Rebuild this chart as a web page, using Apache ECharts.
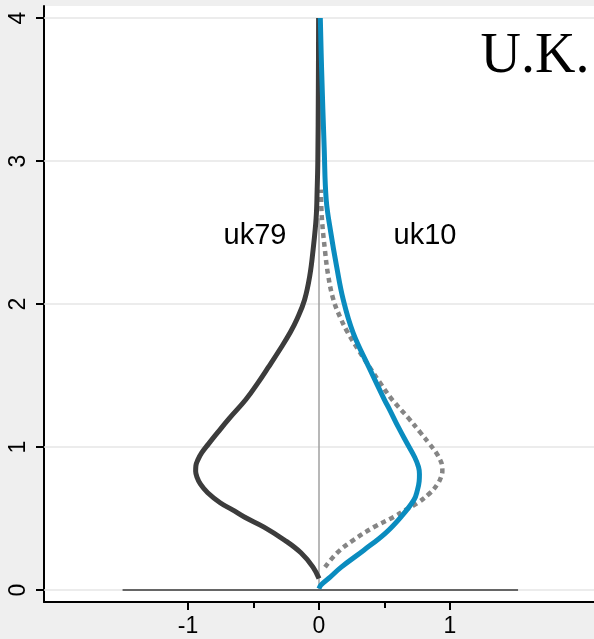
<!DOCTYPE html>
<html>
<head>
<meta charset="utf-8">
<script src="https://cdn.jsdelivr.net/npm/echarts@6/dist/echarts.min.js"></script>
<style>
html,body{margin:0;padding:0;background:#efefef;}
#chart{width:594px;height:639px;}
</style>
</head>
<body>
<div id="chart"></div>
<script>
// uk79 density (drawn to the left, negative x)
const uk79Y = [0.08,0.16,0.26,0.35,0.44,0.51,0.56,0.61,0.68,0.74,0.79,0.83,0.87,0.91,0.96,1.02,1.10,1.20,1.33,1.45,1.56,1.68,1.80,1.90,2.03,2.2,2.38,2.6,2.8,3.0,3.5,4.0];
const uk79D = [0.0,0.046,0.138,0.265,0.42,0.57,0.66,0.755,0.85,0.905,0.932,0.942,0.94,0.925,0.895,0.845,0.775,0.685,0.56,0.465,0.385,0.30,0.22,0.165,0.11,0.07,0.045,0.022,0.014,0.009,0.005,0.003];
// uk10 density (drawn to the right)
const uk10Y = [0.01,0.035,0.09,0.16,0.28,0.40,0.51,0.63,0.70,0.76,0.81,0.86,0.93,1.03,1.14,1.26,1.33,1.56,1.80,2.03,2.26,2.50,2.73,3.08,3.64,4.0];
const uk10D = [0.0,0.015,0.085,0.17,0.345,0.51,0.625,0.725,0.752,0.765,0.767,0.76,0.73,0.67,0.605,0.54,0.50,0.38,0.26,0.185,0.135,0.09,0.055,0.04,0.02,0.01];
const yTicks = [0,1,2,3,4];
const xTicks = [-1,0,1];
const xMinorTicks = [-0.5,0.5];
const seriesLabels = ['uk79','uk10'];
const panelLabel = 'U.K.';

const uk79Line = uk79Y.map((y,i)=>[-uk79D[i], y]);
const uk79Mirror = uk79Y.map((y,i)=>[uk79D[i], y]).filter(p=>p[1]>=0.1 && p[1]<=2.95);
const uk10Line = uk10Y.map((y,i)=>[uk10D[i], y]);

const X_MIN = -2.1, X_MAX = 2.1;
const gridSeries = yTicks.map(v=>({type:'line',data:[[X_MIN,v],[X_MAX,v]],symbol:'none',silent:true,z:1,
  lineStyle:{color:'#e6e6e6',width:1.5}}));

const chart = echarts.init(document.getElementById('chart'), null, {renderer:'canvas'});
chart.setOption({
  backgroundColor:'#efefef',
  animation:false,
  grid:{left:44,right:0,top:6,bottom:37,show:true,backgroundColor:'#fff',borderWidth:0},
  xAxis:[{
    type:'value',min:X_MIN,max:X_MAX,
    axisLine:{show:true,onZero:false,lineStyle:{color:'#000',width:2}},
    axisTick:{show:true,customValues:xTicks,length:8,lineStyle:{color:'#000',width:2}},
    axisLabel:{show:true,customValues:xTicks,margin:13,fontSize:23,color:'#000',fontFamily:'Liberation Sans'},
    splitLine:{show:false}
  },{
    type:'value',min:X_MIN,max:X_MAX,position:'bottom',
    axisLine:{show:false,onZero:false},
    axisTick:{show:true,customValues:xMinorTicks,length:6,lineStyle:{color:'#000',width:2}},
    axisLabel:{show:false},
    splitLine:{show:false}
  }],
  yAxis:{
    type:'value',min:-0.084,max:4.084,
    axisLine:{show:true,onZero:false,lineStyle:{color:'#000',width:2}},
    axisTick:{show:true,customValues:yTicks,length:8,lineStyle:{color:'#000',width:2}},
    axisLabel:{show:true,customValues:yTicks,rotate:90,margin:14,fontSize:23,color:'#000',fontFamily:'Liberation Sans'},
    splitLine:{show:false}
  },
  series:gridSeries.concat([
    {type:'line',data:[[0,0],[0,2.6]],symbol:'none',silent:true,z:2,lineStyle:{color:'#a0a0a0',width:1.5}},
    {type:'line',data:[[-1.5,0],[1.52,0]],symbol:'none',silent:true,z:3,lineStyle:{color:'#666',width:2}},
    {name:'uk79 mirror',type:'line',data:uk79Mirror,symbol:'none',smooth:0.4,silent:true,z:4,
      lineStyle:{color:'#858585',width:4.5,type:[5,4],cap:'butt'}},
    {name:seriesLabels[0],type:'line',data:uk79Line,symbol:'none',smooth:0.4,silent:true,z:5,
      lineStyle:{color:'#3c3c3c',width:5}},
    {name:seriesLabels[1],type:'line',data:uk10Line,symbol:'none',smooth:0.4,silent:true,z:6,
      lineStyle:{color:'#0a8cbf',width:5}}
  ]),
  graphic:[
    {type:'text',x:255,y:236,style:{text:seriesLabels[0],font:'29px "Liberation Sans", Arial, sans-serif',fill:'#000',align:'center',verticalAlign:'middle'}},
    {type:'text',x:425,y:236,style:{text:seriesLabels[1],font:'29px "Liberation Sans", Arial, sans-serif',fill:'#000',align:'center',verticalAlign:'middle'}},
    {type:'text',x:535,y:57,style:{text:panelLabel,font:'56px "Liberation Serif", "Times New Roman", serif',fill:'#000',align:'center',verticalAlign:'middle'}}
  ]
});
</script>
</body>
</html>
